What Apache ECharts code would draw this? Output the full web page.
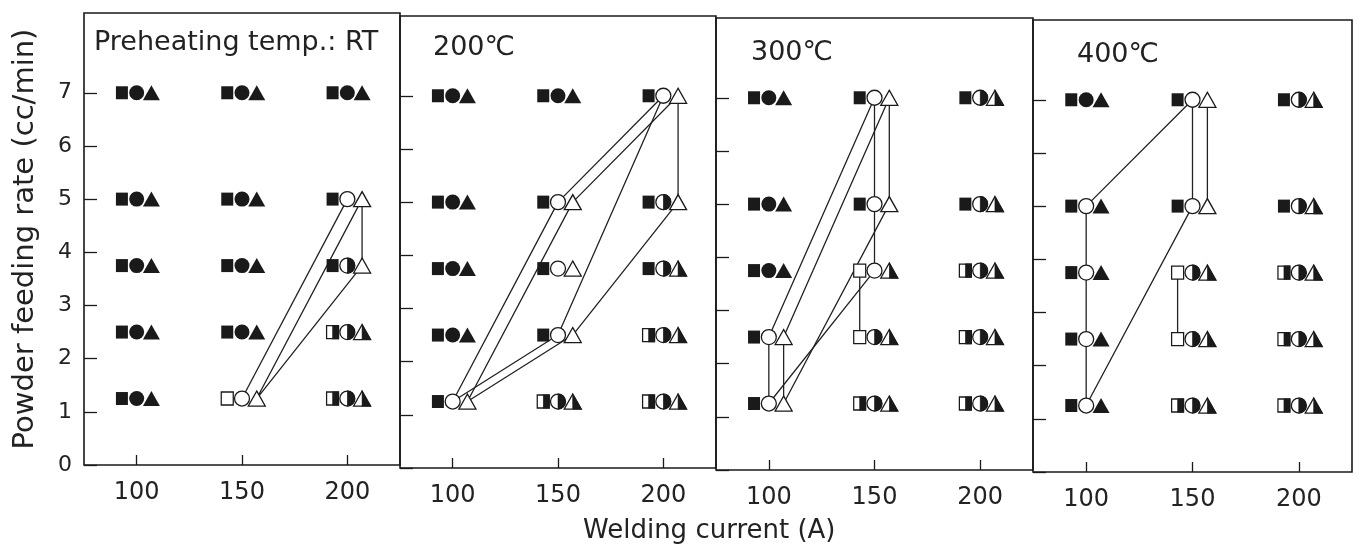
<!DOCTYPE html>
<html>
<head>
<meta charset="utf-8">
<script src="https://cdn.jsdelivr.net/npm/echarts@6/dist/echarts.min.js"></script>
<style>
html, body { margin: 0; background: #fff; }
#chart { width: 1359px; height: 546px; }
</style>
</head>
<body>
<div id="chart"></div>
<script>
var currents = [100, 150, 200];
var feedRates = [7, 5, 3.75, 2.5, 1.25];
var xTicks = [100, 150, 200];
var yTicks = [0, 1, 2, 3, 4, 5, 6, 7];
var panelTitles = ['Preheating temp.: RT', '200℃', '300℃', '400℃'];

// one row per feed rate (top to bottom), one entry per current
// letters: square, circle, triangle -> F filled, O open, H right half filled
var statesRT = [
    ['FFF', 'FFF', 'FFF'],
    ['FFF', 'FFF', 'FOO'],
    ['FFF', 'FFF', 'FHO'],
    ['FFF', 'FFF', 'HHH'],
    ['FFF', 'OOO', 'HHH']
];
var states200 = [
    ['FFF', 'FFF', 'FOO'],
    ['FFF', 'FOO', 'FHO'],
    ['FFF', 'FOO', 'FHH'],
    ['FFF', 'FOO', 'HHH'],
    ['FOO', 'HHH', 'HHH']
];
var states300 = [
    ['FFF', 'FOO', 'FHH'],
    ['FFF', 'FOO', 'FHH'],
    ['FFF', 'OOH', 'HHH'],
    ['FOO', 'OHH', 'HHH'],
    ['FOO', 'HHH', 'HHH']
];
var states400 = [
    ['FFF', 'FOO', 'FHH'],
    ['FOF', 'FOO', 'FHH'],
    ['FOF', 'OHH', 'HHH'],
    ['FOF', 'OHH', 'HHH'],
    ['FOF', 'HHH', 'HHH']
];

// boundary lines: [marker, current, feed rate]
var linesRT = [
    [['c', 150, 1.25], ['c', 200, 5]],
    [['t', 150, 1.25], ['t', 200, 5], ['t', 200, 3.75], ['t', 150, 1.25]]
];
var lines200 = [
    [['c', 100, 1.25], ['c', 150, 5], ['c', 200, 7], ['c', 150, 2.5], ['c', 100, 1.25]],
    [['t', 100, 1.25], ['t', 150, 5], ['t', 200, 7], ['t', 200, 5], ['t', 150, 2.5], ['t', 100, 1.25]]
];
var lines300 = [
    [['c', 150, 7], ['c', 100, 2.5], ['c', 100, 1.25], ['c', 150, 3.75], ['c', 150, 5], ['c', 150, 7]],
    [['t', 150, 7], ['t', 100, 2.5], ['t', 100, 1.25], ['t', 150, 5], ['t', 150, 7]],
    [['s', 150, 3.75], ['s', 150, 2.5]]
];
var lines400 = [
    [['c', 150, 7], ['c', 100, 5], ['c', 100, 1.25], ['c', 150, 5], ['c', 150, 7]],
    [['t', 150, 7], ['t', 150, 5]],
    [['s', 150, 3.75], ['s', 150, 2.5]]
];

var allStates = [statesRT, states200, states300, states400];
var allLines = [linesRT, lines200, lines300, lines400];

var shift = {s: -7, c: 0, t: 7};
var kinds = ['s', 'c', 't'];
var shapes = {
    s: {symbol: 'rect', size: [12, 13], half: 'rect', halfSize: [6, 13]},
    c: {symbol: 'circle', size: 15, half: 'path://M0,0 A10,10 0 0 1 0,20 Z', halfSize: [7.5, 15]},
    t: {symbol: 'triangle', size: [17, 15], half: 'path://M0,0 L10,20 L0,20 Z', halfSize: [8.5, 15]}
};
var ink = '#1a1a1a';
var font = "'DejaVu Sans', sans-serif";

var gridLeft = [84, 400, 716, 1033];
var gridWidth = [316, 316, 317, 319];
var gridTop = [13, 16, 18, 20];

var grids = [], xAxes = [], yAxes = [], series = [];

for (var p = 0; p < 4; p++) {
    grids.push({
        left: gridLeft[p], top: gridTop[p], width: gridWidth[p], height: 452,
        show: true, borderColor: ink, borderWidth: 1.6
    });
    xAxes.push({
        type: 'value', gridIndex: p, min: 75, max: 225,
        axisLine: {show: false}, splitLine: {show: false},
        axisTick: {inside: true, length: 10, customValues: xTicks, lineStyle: {color: ink, width: 1.3}},
        axisLabel: {customValues: xTicks, fontSize: 24, color: '#222', margin: 16, fontFamily: font}
    });
    var ya = {
        type: 'value', gridIndex: p, min: 0, max: 8.5,
        axisLine: {show: false}, splitLine: {show: false},
        axisTick: {inside: true, length: 13, customValues: yTicks, lineStyle: {color: ink, width: 1.3}},
        axisLabel: {show: p === 0, customValues: yTicks, fontSize: 22, color: '#222', margin: 12, fontFamily: font}
    };
    if (p === 0) {
        ya.name = 'Powder feeding rate (cc/min)';
        ya.nameLocation = 'middle';
        ya.nameRotate = 90;
        ya.nameGap = 44;
        ya.nameTextStyle = {fontSize: 29, color: '#222', fontFamily: font};
    }
    yAxes.push(ya);

    // boundary lines under the markers
    allLines[p].forEach(function (poly) {
        series.push({
            type: 'line', xAxisIndex: p, yAxisIndex: p, z: 2,
            symbol: 'none', silent: true,
            lineStyle: {color: '#222', width: 1.3},
            data: poly.map(function (pt) { return [pt[1] + shift[pt[0]], pt[2]]; })
        });
    });

    // markers
    var st = allStates[p];
    kinds.forEach(function (k, ki) {
        var groups = {F: [], O: [], H: []};
        feedRates.forEach(function (f, ri) {
            currents.forEach(function (cur, ci) {
                groups[st[ri][ci][ki]].push([cur + shift[k], f]);
            });
        });
        var sh = shapes[k];
        series.push({
            type: 'scatter', xAxisIndex: p, yAxisIndex: p, z: 3, silent: true,
            symbol: sh.symbol, symbolSize: sh.size,
            itemStyle: {color: ink, opacity: 1},
            data: groups.F
        });
        series.push({
            type: 'scatter', xAxisIndex: p, yAxisIndex: p, z: 3, silent: true,
            symbol: sh.symbol, symbolSize: sh.size,
            itemStyle: {color: '#fff', borderColor: ink, borderWidth: 1.3, opacity: 1},
            data: groups.O.concat(groups.H)
        });
        series.push({
            type: 'scatter', xAxisIndex: p, yAxisIndex: p, z: 4, silent: true,
            symbol: sh.half, symbolSize: sh.halfSize,
            symbolOffset: [sh.halfSize[0] / 2, 0],
            itemStyle: {color: ink, borderColor: ink, borderWidth: 0.8, opacity: 1},
            data: groups.H
        });
    });
}

var titleStyle = {fontSize: 27, fontWeight: 'normal', color: '#222', fontFamily: font};
var chart = echarts.init(document.getElementById('chart'));
chart.setOption({
    animation: false,
    backgroundColor: '#fff',
    title: [
        {text: panelTitles[0], left: 89, top: 24, textStyle: titleStyle},
        {text: panelTitles[1], left: 428, top: 29, textStyle: titleStyle},
        {text: panelTitles[2], left: 746, top: 34, textStyle: titleStyle},
        {text: panelTitles[3], left: 1072, top: 36, textStyle: titleStyle},
        {text: 'Welding current (A)', left: 578, top: 513,
         textStyle: {fontSize: 26, fontWeight: 'normal', color: '#222', fontFamily: font}}
    ],
    grid: grids,
    xAxis: xAxes,
    yAxis: yAxes,
    series: series
});
</script>
</body>
</html>
